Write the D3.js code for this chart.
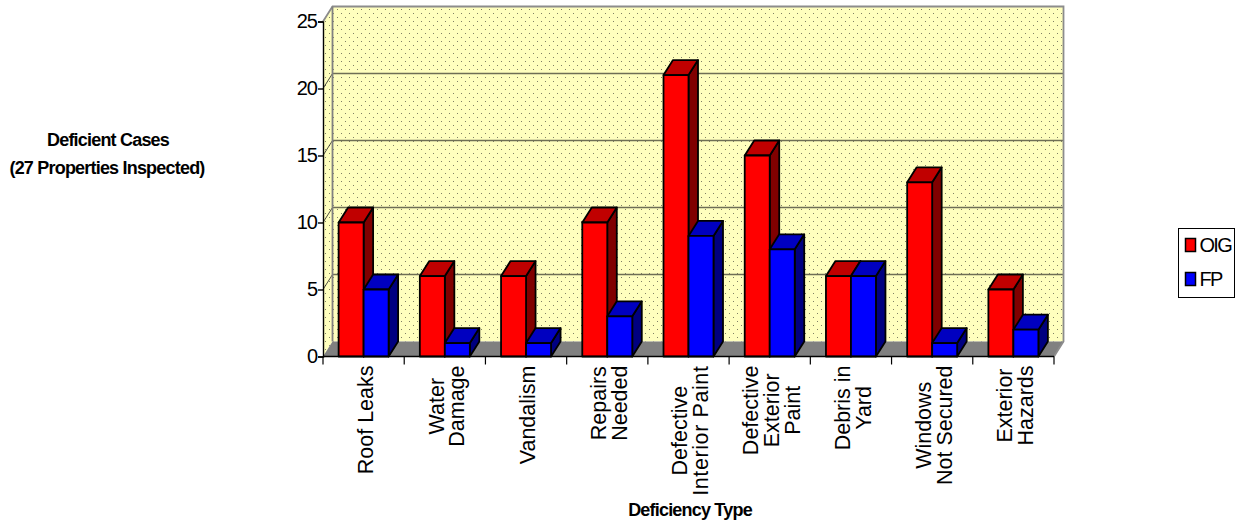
<!DOCTYPE html>
<html><head><meta charset="utf-8">
<style>html,body{margin:0;padding:0;background:#fff}svg{display:block}text{font-family:"Liberation Sans",Arial,sans-serif;fill:#000}</style>
<script src="https://cdn.jsdelivr.net/npm/d3@7"></script></head><body>
<script>
// Deficiency counts per inspection group
const categories = [["Roof Leaks"],["Water","Damage"],["Vandalism"],["Repairs","Needed"],["Defective","Interior Paint"],["Defective","Exterior","Paint"],["Debris in","Yard"],["Windows","Not Secured"],["Exterior","Hazards"]];
const oigValues = [10,6,6,10,21,15,6,13,5];
const fpValues = [5,1,1,3,9,8,6,1,2];
const seriesNames = ["OIG","FP"];
const yTicks = [0,5,10,15,20,25];

const W=1238,H=523,dx=9.5,dy=-15;
const svg=d3.select("body").append("svg").attr("width",W).attr("height",H);
const x=d3.scaleBand().domain(categories.map((d,i)=>i)).range([323,1054]);
const y=d3.scaleLinear().domain([0,25]).range([356.5,21.5]);
const color=d3.scaleOrdinal().domain(seriesNames).range(["#ff0000","#0000ff"]);
const topC={OIG:"#c00000",FP:"#0000c0"},sideC={OIG:"#800000",FP:"#000080"};

// Stippled wall fill
const pat=svg.append("defs").append("pattern").attr("id","stipple").attr("width",8).attr("height",8).attr("patternUnits","userSpaceOnUse");
pat.append("rect").attr("width",8).attr("height",8).attr("fill","#ffffbe");
[[1,1],[5,5]].forEach(p=>pat.append("rect").attr("x",p[0]).attr("y",p[1]).attr("width",1).attr("height",1).attr("fill","#808064"));

const xL=x.range()[0],xR=x.range()[1],y0=y(0),yT=y(25);
const poly=(pts,fill,stroke,sw)=>svg.append("polygon").attr("points",pts.map(p=>p.join(",")).join(" ")).attr("fill",fill).attr("stroke",stroke||"none").attr("stroke-width",sw||0).attr("stroke-linejoin","round");
// Back and side walls, then the floor
poly([[xL+dx,yT+dy],[xR+dx,yT+dy],[xR+dx,y0+dy],[xL+dx,y0+dy]],"url(#stipple)");
poly([[xL,yT],[xL+dx,yT+dy],[xL+dx,y0+dy],[xL,y0]],"url(#stipple)");
poly([[xL,y0],[xL+dx,y0+dy],[xR+dx,y0+dy],[xR,y0]],"#808080");
// Gridlines along side and back walls
yTicks.slice(1,-1).forEach(t=>{
  svg.append("line").attr("x1",xL+dx).attr("x2",xR+dx).attr("y1",y(t)+dy).attr("y2",y(t)+dy).attr("stroke","#6e6e55").attr("stroke-width",1.3);
  svg.append("line").attr("x1",xL).attr("x2",xL+dx).attr("y1",y(t)).attr("y2",y(t)+dy).attr("stroke","#222").attr("stroke-width",.8);
});
svg.append("path").attr("d",`M${xL},${yT}L${xL+dx},${yT+dy}H${xR+dx}V${y0+dy}L${xR},${y0}`).attr("fill","none").attr("stroke","#8c8c8c").attr("stroke-width",1.8);
svg.append("line").attr("x1",xL+dx).attr("x2",xL+dx).attr("y1",yT+dy).attr("y2",y0+dy).attr("stroke","#808080").attr("stroke-width",1.8);

// Extruded bars, each group drawn left to right
const barW=25,off=(x.bandwidth()-2*barW)/2;
const bar=(name,v,i,k)=>{
  const l=x(i)+off+k*barW,r=l+barW,t=y(v);
  poly([[r,y0],[r+dx,y0+dy],[r+dx,t+dy],[r,t]],sideC[name],"#000",1.8);
  poly([[l,t],[l+dx,t+dy],[r+dx,t+dy],[r,t]],topC[name],"#000",1.8);
  poly([[l,t],[r,t],[r,y0],[l,y0]],color(name),"#000",1.8);
};
categories.forEach((c,i)=>{bar("OIG",oigValues[i],i,0);bar("FP",fpValues[i],i,1);});

// Axes
const yAxis=d3.axisLeft(y).tickValues(yTicks).tickSize(5).tickPadding(2);
const gy=svg.append("g").attr("transform",`translate(${xL},0)`).call(yAxis);
gy.selectAll("text").attr("font-size",20).attr("letter-spacing",-1).attr("x",-6).style("font-family",'"Liberation Sans"');
gy.selectAll("line,path").attr("stroke","#000").attr("stroke-width",1.4);
svg.append("line").attr("x1",xL).attr("x2",xR).attr("y1",y0).attr("y2",y0).attr("stroke","#000").attr("stroke-width",1.4);
d3.range(categories.length+1).forEach(i=>svg.append("line").attr("x1",xL+i*x.step()).attr("x2",xL+i*x.step()).attr("y1",y0).attr("y2",y0+8).attr("stroke","#000").attr("stroke-width",1.2));

// Rotated category labels: lines centred on each other, blocks hanging from the axis
const labelTop=365.5,labelSize=21.5,lineGap=20.8;
categories.forEach((c,i)=>{
  const cx=x(i)+x.bandwidth()/2,n=c.length;
  const g=svg.append("g");
  const nodes=c.map(s=>g.append("text").attr("text-anchor","middle").attr("font-size",labelSize).attr("letter-spacing",s==="Interior Paint"?0.6:null).text(s));
  const longest=d3.max(nodes,t=>t.node().getComputedTextLength());
  nodes.forEach((t,j)=>t.attr("transform",`translate(${cx+(j-(n-1)/2)*lineGap+9.2},${labelTop+longest/2}) rotate(-90)`));
});

// Axis titles
const bold=(t,px,py)=>svg.append("text").attr("x",px).attr("y",py).attr("text-anchor","middle").attr("font-size",18).attr("font-weight","bold").attr("letter-spacing",-.8).text(t);
bold("Deficient Cases",108,146);bold("(27 Properties Inspected)",107,174);
bold("Deficiency Type",690,516);

// Legend
svg.append("rect").attr("x",1178.5).attr("y",228.5).attr("width",56).attr("height",69).attr("fill","#fff").attr("stroke","#000").attr("stroke-width",1);
seriesNames.forEach((s,i)=>{
  const ly=245+i*34;
  svg.append("rect").attr("x",1185.5).attr("y",ly-6.5).attr("width",10).attr("height",13).attr("fill",color(s)).attr("stroke","#000").attr("stroke-width",1.5);
  svg.append("text").attr("x",1199.5).attr("y",ly+7).attr("font-size",20).attr("letter-spacing",-1.7).text(s);
});
</script></body></html>
